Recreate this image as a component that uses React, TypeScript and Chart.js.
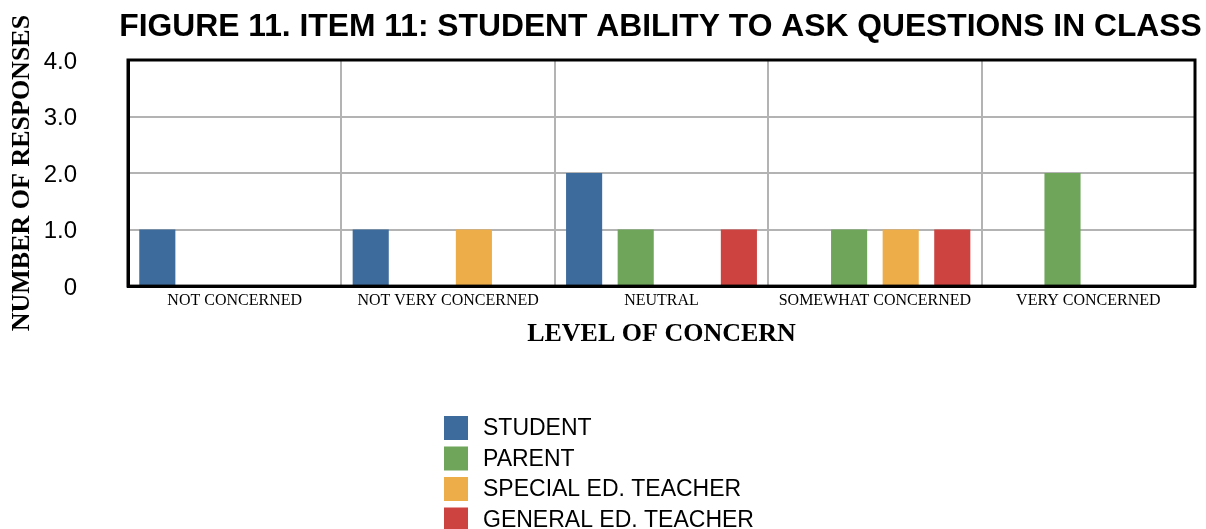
import React, { useEffect, useRef } from "react";
import { Chart, registerables } from "chart.js";

Chart.register(...registerables);

const categories = [
  "NOT CONCERNED",
  "NOT VERY CONCERNED",
  "NEUTRAL",
  "SOMEWHAT CONCERNED",
  "VERY CONCERNED",
];
const seriesNames = ["STUDENT", "PARENT", "SPECIAL ED. TEACHER", "GENERAL ED. TEACHER"];
const studentValues = [1, 1, 2, 0, 0];
const parentValues = [0, 0, 1, 1, 2];
const specialEdValues = [0, 1, 0, 1, 0];
const generalEdValues = [0, 0, 1, 1, 0];
const yTicks = [0, 1, 2, 3, 4];
const seriesColors = ["#3d6b9c", "#6ea55a", "#edae4a", "#cc4340"];

const chartTitle = "FIGURE 11. ITEM 11: STUDENT ABILITY TO ASK QUESTIONS IN CLASS";
const yTitle = "NUMBER OF RESPONSES";
const xTitle = "LEVEL OF CONCERN";

const borderPlugin = {
  id: "areaBorder",
  afterDatasetsDraw(chart: any) {
    const { ctx, chartArea } = chart;
    ctx.save();
    ctx.strokeStyle = "#000";
    ctx.lineWidth = 3;
    ctx.strokeRect(chartArea.left, chartArea.top, chartArea.right - chartArea.left, chartArea.bottom - chartArea.top);
    ctx.restore();
  },
};

const centeredTitlePlugin = {
  id: "centeredTitle",
  afterDraw(chart: any) {
    const { ctx, chartArea } = chart;
    ctx.save();
    ctx.font = "bold 31.8px 'Liberation Sans', Arial, sans-serif";
    ctx.fillStyle = "#000";
    ctx.textAlign = "center";
    ctx.textBaseline = "alphabetic";
    ctx.fillText(chartTitle, (chartArea.left + chartArea.right) / 2 - 1, chartArea.top - 24);
    ctx.restore();
  },
};

const listLegendPlugin = {
  id: "listLegend",
  afterDraw(chart: any) {
    const { ctx } = chart;
    const datasets = chart.data.datasets;
    const font = "23px 'Liberation Sans', Arial, sans-serif";
    ctx.save();
    ctx.font = font;
    const box = 24;
    const gap = 15;
    let maxW = 0;
    datasets.forEach((d: any) => {
      maxW = Math.max(maxW, ctx.measureText(d.label).width);
    });
    const blockW = box + gap + maxW;
    const left = Math.round((chart.width - blockW) / 2) - 4;
    const top = chart.height - 113;
    const rowH = 30.5;
    datasets.forEach((d: any, i: number) => {
      const y = top + i * rowH;
      ctx.fillStyle = d.backgroundColor;
      ctx.fillRect(left, y, box, box);
      ctx.fillStyle = "#000";
      ctx.textBaseline = "middle";
      ctx.textAlign = "left";
      ctx.fillText(d.label, left + box + gap, y + box / 2 + 1);
    });
    ctx.restore();
  },
};

export default function App() {
  const ref = useRef<HTMLCanvasElement>(null);
  useEffect(() => {
    document.body.style.margin = "0";
    const values = [studentValues, parentValues, specialEdValues, generalEdValues];
    const chart = new Chart(ref.current!, {
      type: "bar",
      data: {
        labels: categories,
        datasets: seriesNames.map((name, i) => ({
          label: name,
          data: values[i],
          backgroundColor: seriesColors[i],
          borderWidth: 0,
          categoryPercentage: 0.967,
          barPercentage: 0.7,
        })),
      },
      options: {
        animation: false,
        responsive: true,
        maintainAspectRatio: false,
        layout: { padding: { left: 0, right: 11, top: 60, bottom: 179 } },
        plugins: {
          legend: { display: false },
          tooltip: { enabled: false },
          title: { display: false },
        },
        scales: {
          x: {
            grid: { color: "#b3b3b3", lineWidth: 2, drawTicks: false, offset: true },
            border: { color: "#000", width: 3 },
            ticks: {
              color: "#000",
              padding: 5,
              maxRotation: 0,
              autoSkip: false,
              font: { family: "'Liberation Serif', 'Times New Roman', serif", size: 16 },
            },
            title: {
              display: true,
              text: xTitle,
              color: "#000",
              font: { family: "'Liberation Serif', 'Times New Roman', serif", size: 26, weight: "bold" },
              padding: { top: 3.5, bottom: 0 },
            },
          },
          y: {
            min: 0,
            max: 4,
            afterBuildTicks(scale: any) {
              scale.ticks = yTicks.map((v) => ({ value: v }));
            },
            afterFit(scale: any) {
              scale.width = 128;
              scale.paddingTop = 0;
              scale.paddingBottom = 0;
            },
            grid: { color: "#b3b3b3", lineWidth: 2, drawTicks: false },
            border: { color: "#000", width: 3 },
            ticks: {
              color: "#000",
              padding: 51,
              labelOffset: 2,
              font: { family: "'Liberation Sans', Arial, sans-serif", size: 24 },
              callback: (v: any) => (Number(v) === 0 ? "0" : Number(v).toFixed(1)),
            },
            title: {
              display: true,
              text: yTitle,
              color: "#000",
              font: { family: "'Liberation Serif', 'Times New Roman', serif", size: 26, weight: "bold" },
              padding: { top: 7, bottom: 8 },
            },
          },
        },
      },
      plugins: [borderPlugin, centeredTitlePlugin, listLegendPlugin],
    });
    return () => chart.destroy();
  }, []);
  return (
    <div style={{ width: 1206, height: 529, position: "relative" }}>
      <canvas ref={ref} />
    </div>
  );
}
